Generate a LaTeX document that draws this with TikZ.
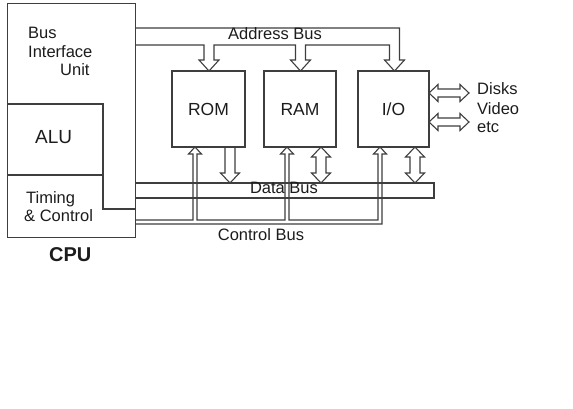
\documentclass[tikz,border=0pt]{standalone}
\usepackage{fontspec}
\setmainfont{Liberation Sans}
\definecolor{ln}{RGB}{62,62,62}
\definecolor{tx}{RGB}{28,28,28}
\tikzset{
  bus/.style={draw=ln, line width=1.1pt, line join=miter},
  box/.style={draw=ln, line width=1.1pt, minimum height=76pt, inner sep=0pt,
              font=\fontsize{17.5}{20}\selectfont, text=tx},
  lbl/.style={inner sep=0pt, font=\fontsize{16.5}{19}\selectfont, text=tx}
}
\begin{document}
\begin{tikzpicture}[x=1pt,y=-1pt]
\useasboundingbox (0,0) rectangle (573,409);
% CPU
\node[draw=ln, line width=1.1pt, minimum width=128pt, minimum height=234pt,
      inner sep=0pt, anchor=north west] (cpu) at (7,3) {};
\draw[bus] (7,104) -| (103,209) -- (135,209);
\draw[bus] (7,175) -- (103,175);
\node[lbl, anchor=base west] (biu1) at (28,38.5) {Bus};
\node[lbl, anchor=base west] (biu2) at (28,58) {Interface};
\node[lbl, anchor=base west] (biu3) at (60,76) {Unit};
\node[lbl, font=\fontsize{19}{22}\selectfont, anchor=base west] (alu) at (35,143) {ALU};
\node[lbl, anchor=base west] (tc1) at (26,203.5) {Timing};
\node[lbl, anchor=base west] (tc2) at (24,221.5) {\& Control};
\node[lbl, font=\bfseries\fontsize{20}{24}\selectfont, anchor=base west] (cpul) at (49,261) {CPU};
% memory and I/O boxes
\node[box, minimum width=73pt] (rom) at (208.5,109) {ROM};
\node[box, minimum width=72pt] (ram) at (300,109) {RAM};
\node[box, minimum width=71pt] (io) at (393.5,109) {I/O};
% address bus
\draw[bus] (135,28) -- (399.5,28) -- (399.5,60) -- (404.5,60) -- (394.5,71)
  -- (384.5,60) -- (389.5,60) -- (389.5,45) -- (305.5,45) -- (305.5,60)
  -- (310.5,60) -- (300.5,71) -- (290.5,60) -- (295.5,60) -- (295.5,45)
  -- (214,45) -- (214,60) -- (219,60) -- (209,71) -- (199,60) -- (204,60)
  -- (204,45) -- (135,45);
\node[lbl, anchor=base] (abus) at (275,40) {Address Bus};
% data bus
\draw[bus] (135,183) -- (434,183) -- (434,198) -- (135,198);
\node[lbl, anchor=base] (dbus) at (284,193.5) {Data Bus};
\draw[bus] (225,147) -- (225,173) -- (220.5,173) -- (230,183) -- (239.5,173)
  -- (235,173) -- (235,147);
\draw[bus] (321,147) -- (330.5,157) -- (326,157) -- (326,173) -- (330.5,173)
  -- (321,183) -- (311.5,173) -- (316,173) -- (316,157) -- (311.5,157) -- cycle;
\draw[bus] (415,147) -- (424.5,157) -- (420,157) -- (420,173) -- (424.5,173)
  -- (415,183) -- (405.5,173) -- (410,173) -- (410,157) -- (405.5,157) -- cycle;
% control bus
\draw[bus] (135,224) -- (382,224) -- (382,154) -- (386.5,154) -- (380,147)
  -- (373.5,154) -- (378,154) -- (378,220) -- (289,220) -- (289,154)
  -- (293.5,154) -- (287,147) -- (280.5,154) -- (285,154) -- (285,220)
  -- (197,220) -- (197,154) -- (201.5,154) -- (195,147) -- (188.5,154)
  -- (193,154) -- (193,220) -- (135,220);
\node[lbl, anchor=base] (cbus) at (261,240) {Control Bus};
% peripherals
\draw[bus] (429,93) -- (438,84.5) -- (438,89) -- (460,89) -- (460,84.5)
  -- (469,93) -- (460,101.5) -- (460,97) -- (438,97) -- (438,101.5) -- cycle;
\draw[bus] (429,122) -- (438,113.5) -- (438,118) -- (460,118) -- (460,113.5)
  -- (469,122) -- (460,130.5) -- (460,126) -- (438,126) -- (438,130.5) -- cycle;
\node[lbl, anchor=base west] (disks) at (477,95) {Disks};
\node[lbl, anchor=base west] (video) at (477,115) {Video};
\node[lbl, anchor=base west] (etc) at (477,132.5) {etc};
\end{tikzpicture}
\end{document}
